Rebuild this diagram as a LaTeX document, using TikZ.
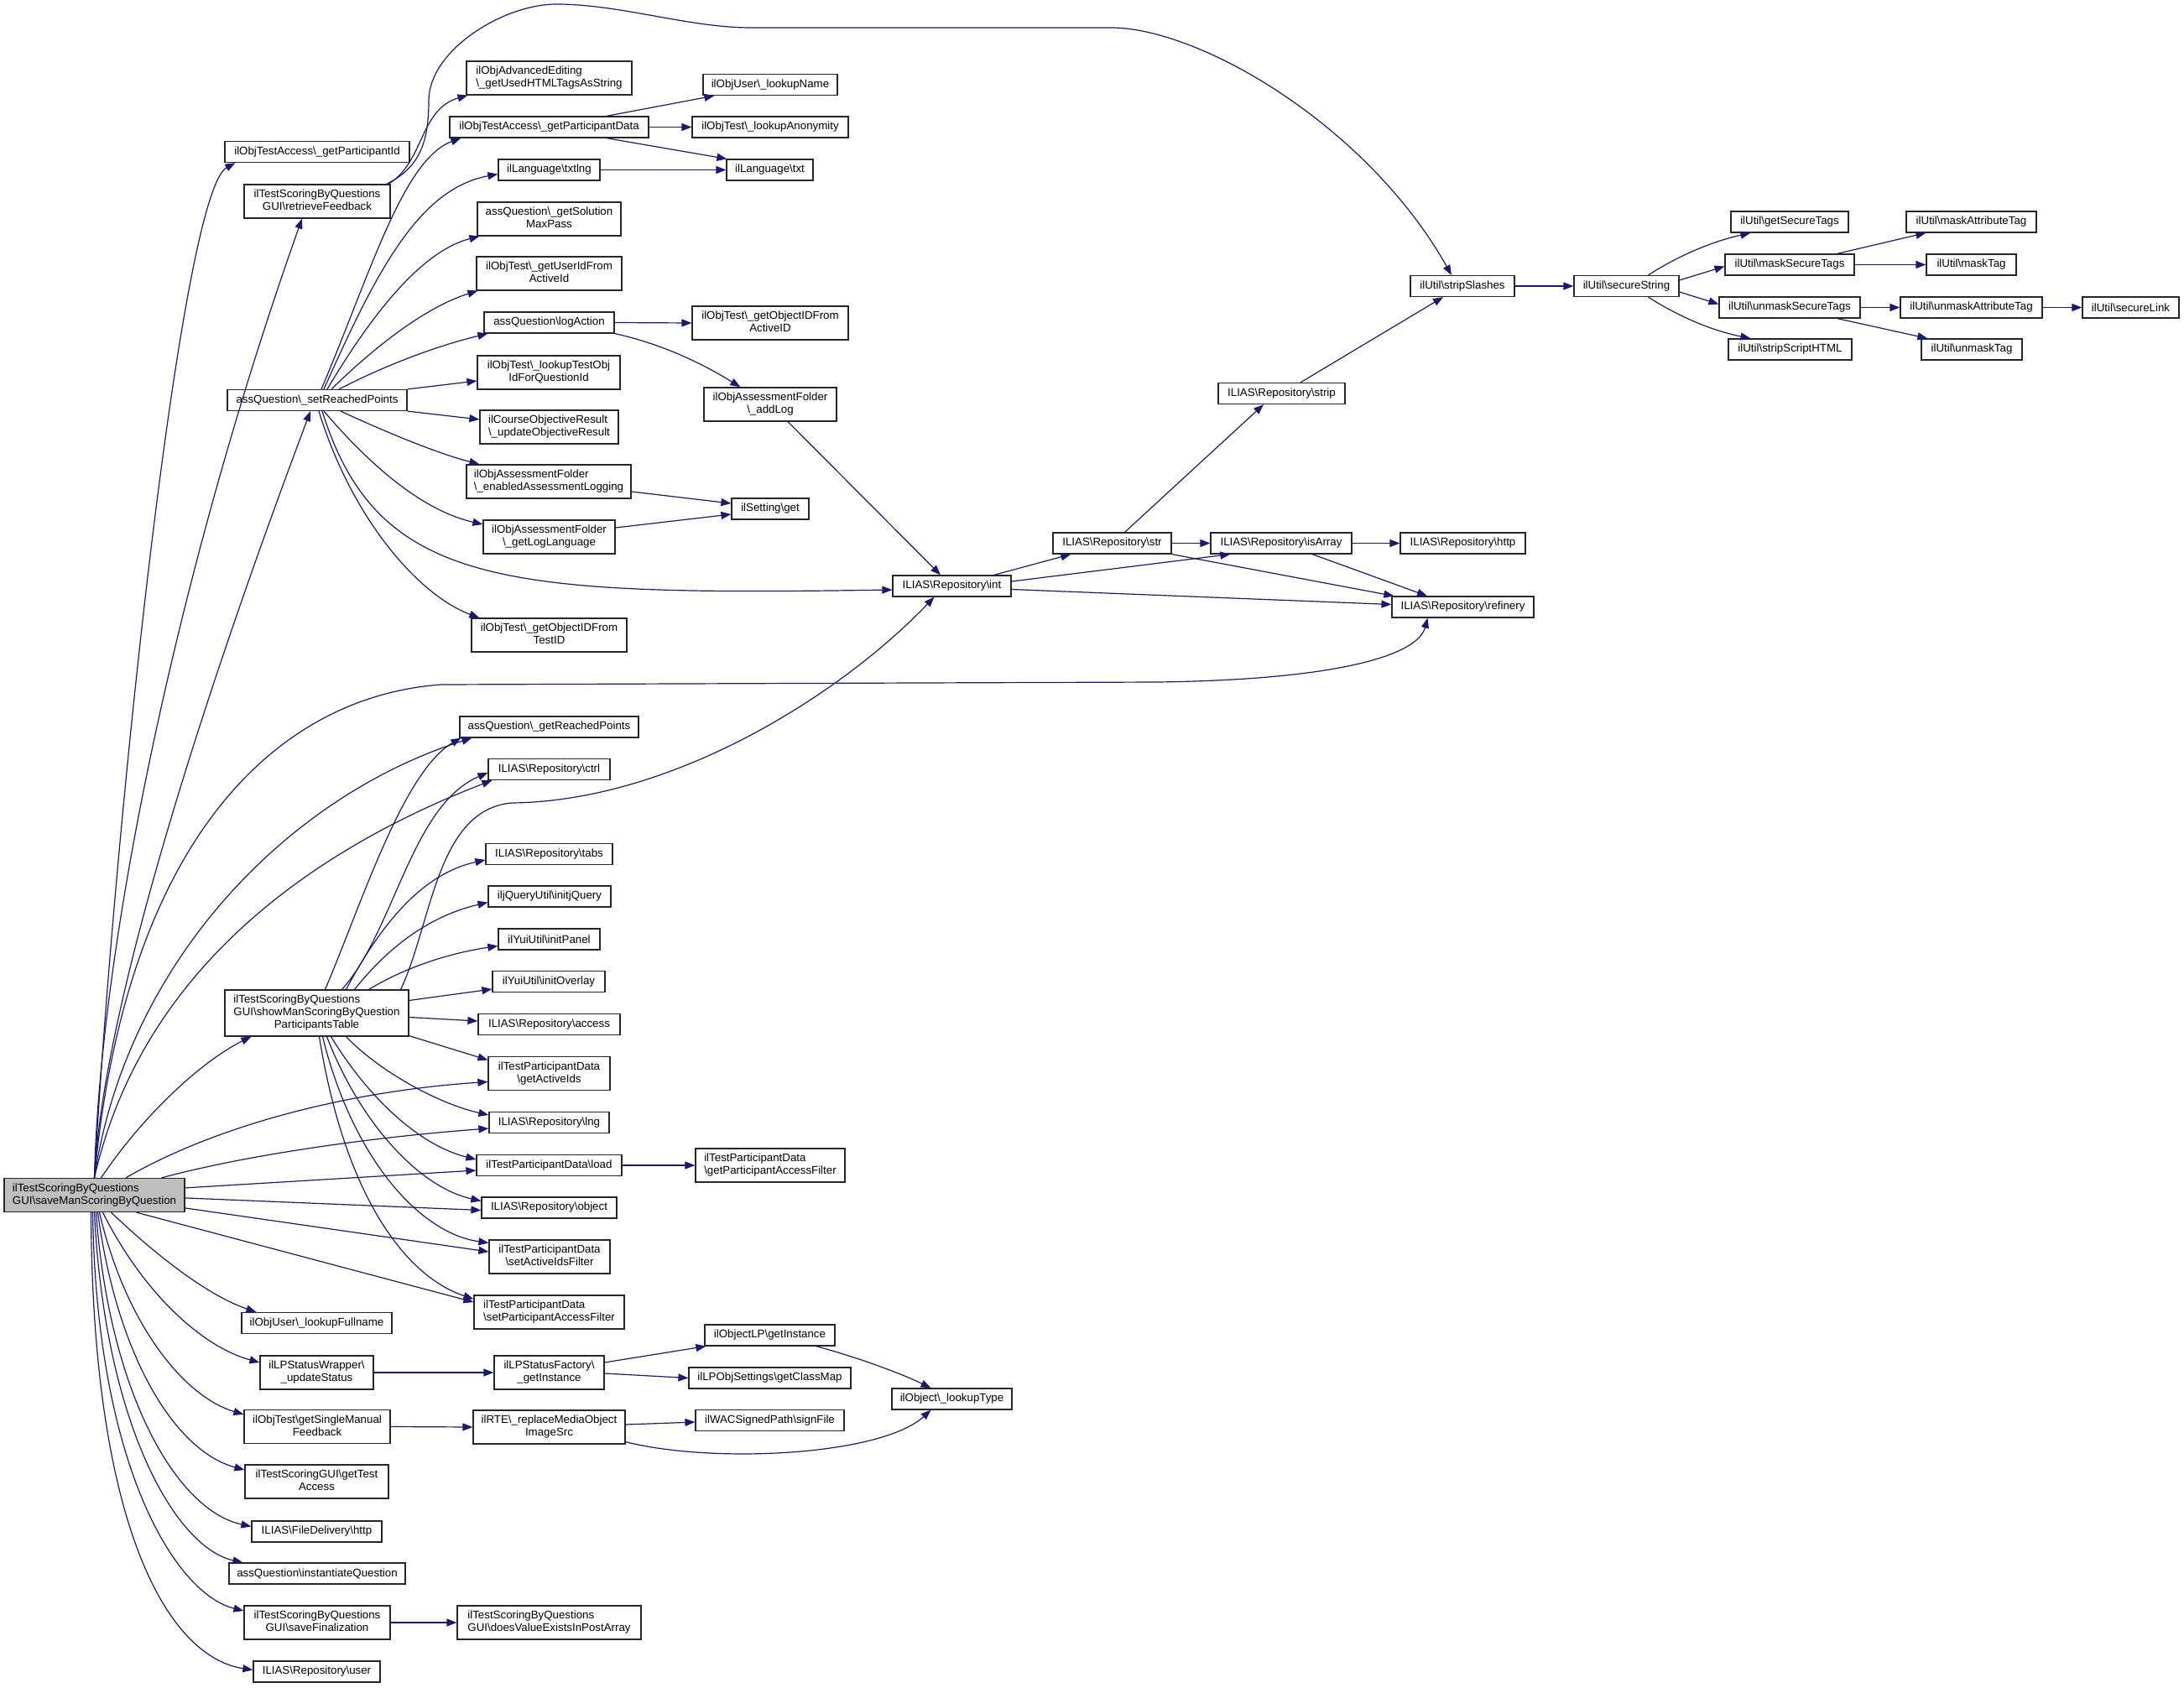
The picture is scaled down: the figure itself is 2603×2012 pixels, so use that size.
\documentclass[tikz,border=0pt]{standalone}
\usepackage{fontspec}
\setmainfont{Liberation Sans}
\usetikzlibrary{arrows.meta,calc}
\definecolor{edgeblue}{HTML}{191970}
\definecolor{maingray}{HTML}{BFBFBF}
\newcommand{\dxbs}{\textbackslash}
\newcommand{\twoln}[2]{\begin{tabular}{@{}l@{}}#1\\\multicolumn{1}{@{}c@{}}{#2}\end{tabular}}
\newcommand{\threeln}[3]{\begin{tabular}{@{}l@{}}#1\\#2\\\multicolumn{1}{@{}c@{}}{#3}\end{tabular}}
\tikzset{
  dxbox/.style={draw=black!85, line width=1.2pt, fill=white, inner xsep=0pt, inner ysep=5pt,
    minimum height=25pt, font=\fontsize{13.3}{15}\selectfont},
  dxedge/.style={draw=edgeblue, line width=1.2pt, -{Triangle[length=12pt,width=9pt]}}
}
\begin{document}
\begin{tikzpicture}[x=1pt,y=-1pt]
\useasboundingbox (0,0) rectangle (2603,2012);
\fill[white] (0,0) rectangle (2603,2012);
% ---------- column A
\node[dxbox,minimum width=215pt,fill=maingray] (m) at (112.5,1424.5) {\twoln{ilTestScoringByQuestions}{GUI\dxbs saveManScoringByQuestion}};
\node[dxbox,minimum width=220pt] (gpi) at (378,181) {ilObjTestAccess\dxbs\_getParticipantId};
\node[dxbox,minimum width=174pt] (rf) at (378,240) {\twoln{ilTestScoringByQuestions}{GUI\dxbs retrieveFeedback}};
\node[dxbox,minimum width=214pt] (srp) at (378,477) {assQuestion\dxbs\_setReachedPoints};
\node[dxbox,minimum width=219pt] (smt) at (377.5,1207.5) {\threeln{ilTestScoringByQuestions}{GUI\dxbs showManScoringByQuestion}{ParticipantsTable}};
\node[dxbox,minimum width=179pt] (lfn) at (377.5,1577) {ilObjUser\dxbs\_lookupFullname};
\node[dxbox,minimum width=135pt] (lpw) at (377.5,1636) {\twoln{ilLPStatusWrapper\dxbs}{\_updateStatus}};
\node[dxbox,minimum width=174pt] (gsmf) at (378,1700.5) {\twoln{ilObjTest\dxbs getSingleManual}{Feedback}};
\node[dxbox,minimum width=171pt] (gta) at (377.5,1766) {\twoln{ilTestScoringGUI\dxbs getTest}{Access}};
\node[dxbox,minimum width=155pt] (fdh) at (377.5,1825.5) {ILIAS\dxbs FileDelivery\dxbs http};
\node[dxbox,minimum width=210pt] (iq) at (378,1875.5) {assQuestion\dxbs instantiateQuestion};
\node[dxbox,minimum width=174pt] (sf) at (378,1934) {\twoln{ilTestScoringByQuestions}{GUI\dxbs saveFinalization}};
\node[dxbox,minimum width=151pt] (ru) at (377.5,1992.5) {ILIAS\dxbs Repository\dxbs user};
% ---------- column B
\node[dxbox,minimum width=197pt] (ae) at (654.5,93) {\twoln{ilObjAdvancedEditing}{\dxbs\_getUsedHTMLTagsAsString}};
\node[dxbox,minimum width=237pt] (gpd) at (654.5,151.5) {ilObjTestAccess\dxbs\_getParticipantData};
\node[dxbox,minimum width=121pt] (tlng) at (654.5,202.5) {ilLanguage\dxbs txtlng};
\node[dxbox,minimum width=171pt] (gsmp) at (654.5,261) {\twoln{assQuestion\dxbs\_getSolution}{MaxPass}};
\node[dxbox,minimum width=173pt] (guid) at (654.5,326) {\twoln{ilObjTest\dxbs\_getUserIdFrom}{ActiveId}};
\node[dxbox,minimum width=155pt] (la) at (654.5,384.5) {assQuestion\dxbs logAction};
\node[dxbox,minimum width=170pt] (ltoi) at (654,444) {\twoln{ilObjTest\dxbs\_lookupTestObj}{IdForQuestionId}};
\node[dxbox,minimum width=165pt] (cor) at (654.5,509) {\twoln{ilCourseObjectiveResult}{\dxbs\_updateObjectiveResult}};
\node[dxbox,minimum width=196pt] (eal) at (654,574) {\twoln{ilObjAssessmentFolder}{\dxbs\_enabledAssessmentLogging}};
\node[dxbox,minimum width=157pt] (gll) at (654.5,640) {\twoln{ilObjAssessmentFolder}{\dxbs\_getLogLanguage}};
\node[dxbox,minimum width=185pt] (goitest) at (654.5,757) {\twoln{ilObjTest\dxbs\_getObjectIDFrom}{TestID}};
\node[dxbox,minimum width=213pt] (grp) at (654.5,866.5) {assQuestion\dxbs\_getReachedPoints};
\node[dxbox,minimum width=145pt] (ctrl) at (654.5,917) {ILIAS\dxbs Repository\dxbs ctrl};
\node[dxbox,minimum width=151pt] (tabs) at (654.5,1018) {ILIAS\dxbs Repository\dxbs tabs};
\node[dxbox,minimum width=146pt] (ijq) at (655,1068.5) {iljQueryUtil\dxbs initjQuery};
\node[dxbox,minimum width=121pt] (ipn) at (654.5,1119.5) {ilYuiUtil\dxbs initPanel};
\node[dxbox,minimum width=134pt] (iov) at (654,1170) {ilYuiUtil\dxbs initOverlay};
\node[dxbox,minimum width=169pt] (acc) at (654.5,1221) {ILIAS\dxbs Repository\dxbs access};
\node[dxbox,minimum width=145pt] (gai) at (654.5,1279.5) {\twoln{ilTestParticipantData}{\dxbs getActiveIds}};
\node[dxbox,minimum width=143pt] (lng) at (654.5,1338) {ILIAS\dxbs Repository\dxbs lng};
\node[dxbox,minimum width=173pt] (load) at (654.5,1389) {ilTestParticipantData\dxbs load};
\node[dxbox,minimum width=161pt] (obj) at (654.5,1439.5) {ILIAS\dxbs Repository\dxbs object};
\node[dxbox,minimum width=144pt] (saif) at (655,1498) {\twoln{ilTestParticipantData}{\dxbs setActiveIdsFilter}};
\node[dxbox,minimum width=179pt] (spaf) at (654.5,1564) {\twoln{ilTestParticipantData}{\dxbs setParticipantAccessFilter}};
\node[dxbox,minimum width=131pt] (lpf) at (654.5,1636) {\twoln{ilLPStatusFactory\dxbs}{\_getInstance}};
\node[dxbox,minimum width=181pt] (rte) at (654.5,1701) {\twoln{ilRTE\dxbs\_replaceMediaObject}{ImageSrc}};
\node[dxbox,minimum width=219pt] (dve) at (654.5,1934) {\twoln{ilTestScoringByQuestions}{GUI\dxbs doesValueExistsInPostArray}};
% ---------- column C
\node[dxbox,minimum width=160pt] (lun) at (918,101) {ilObjUser\dxbs\_lookupName};
\node[dxbox,minimum width=186pt] (lan) at (918,151.5) {ilObjTest\dxbs\_lookupAnonymity};
\node[dxbox,minimum width=103pt] (ltxt) at (917.5,202.5) {ilLanguage\dxbs txt};
\node[dxbox,minimum width=186pt] (goiactive) at (918,385) {\twoln{ilObjTest\dxbs\_getObjectIDFrom}{ActiveID}};
\node[dxbox,minimum width=158pt] (addlog) at (918,482) {\twoln{ilObjAssessmentFolder}{\dxbs\_addLog}};
\node[dxbox,minimum width=92pt] (sget) at (918,606.5) {ilSetting\dxbs get};
\node[dxbox,minimum width=178pt] (gpaf) at (918,1389) {\twoln{ilTestParticipantData}{\dxbs getParticipantAccessFilter}};
\node[dxbox,minimum width=155pt] (olp) at (917.5,1591.5) {ilObjectLP\dxbs getInstance};
\node[dxbox,minimum width=193pt] (gcm) at (917.5,1642.5) {ilLPObjSettings\dxbs getClassMap};
\node[dxbox,minimum width=177pt] (sfile) at (917.5,1693) {ilWACSignedPath\dxbs signFile};
% ---------- further columns
\node[dxbox,minimum width=141pt] (int) at (1134.5,698.5) {ILIAS\dxbs Repository\dxbs int};
\node[dxbox,minimum width=143pt] (ltype) at (1134.5,1667.5) {ilObject\dxbs\_lookupType};
\node[dxbox,minimum width=141pt] (str) at (1325.5,647.5) {ILIAS\dxbs Repository\dxbs str};
\node[dxbox,minimum width=151pt] (strip) at (1527.5,469) {ILIAS\dxbs Repository\dxbs strip};
\node[dxbox,minimum width=168pt] (isarr) at (1527,647.5) {ILIAS\dxbs Repository\dxbs isArray};
\node[dxbox,minimum width=124pt] (ss) at (1743,341) {ilUtil\dxbs stripSlashes};
\node[dxbox,minimum width=149pt] (http) at (1743.5,647.5) {ILIAS\dxbs Repository\dxbs http};
\node[dxbox,minimum width=169pt] (ref) at (1743.5,723.5) {ILIAS\dxbs Repository\dxbs refinery};
\node[dxbox,minimum width=125pt] (sstr) at (1938.5,341) {ilUtil\dxbs secureString};
\node[dxbox,minimum width=140pt] (gst) at (2133,264.5) {ilUtil\dxbs getSecureTags};
\node[dxbox,minimum width=154pt] (mst) at (2133,315.5) {ilUtil\dxbs maskSecureTags};
\node[dxbox,minimum width=168pt] (ust) at (2133,366.5) {ilUtil\dxbs unmaskSecureTags};
\node[dxbox,minimum width=147pt] (ssh) at (2133.5,416.5) {ilUtil\dxbs stripScriptHTML};
\node[dxbox,minimum width=155pt] (mat) at (2349.5,264.5) {ilUtil\dxbs maskAttributeTag};
\node[dxbox,minimum width=107pt] (mtag) at (2349.5,315.5) {ilUtil\dxbs maskTag};
\node[dxbox,minimum width=169pt] (uat) at (2349.5,366.5) {ilUtil\dxbs unmaskAttributeTag};
\node[dxbox,minimum width=120pt] (utag) at (2350,416.5) {ilUtil\dxbs unmaskTag};
\node[dxbox,minimum width=115pt] (slink) at (2539.5,366.5) {ilUtil\dxbs secureLink};
% ---------- edges from main
\draw[dxedge] (m.north) .. controls (135,1000) and (215,230) .. ($(gpi.south west)+(13,0)$);
\draw[dxedge] (m.north) .. controls (120,1100) and (225,640) .. ($(rf.south)+(-18,0)$);
\draw[dxedge] (m.north) .. controls (125,1150) and (310,650) .. ($(srp.south)+(-8,0)$);
\draw[dxedge] (m.north) .. controls (150,1000) and (330,830) .. (526,816) -- (1380,813) .. controls (1600,810) and (1690,780) .. ($(ref.south)+(-42,0)$);
\draw[dxedge] (m.north) .. controls (150,1150) and (340,950) .. ($(grp.south west)+(15,0)$);
\draw[dxedge] (m.north) .. controls (170,1150) and (380,1010) .. ($(ctrl.south west)+(5,0)$);
\draw[dxedge] ($(m.north)+(8,0)$) .. controls (170,1330) and (240,1265) .. ($(smt.south west)+(32,0)$);
\draw[dxedge] ($(m.north)+(37.5,0)$) .. controls (260,1340) and (420,1300) .. ($(gai.west)+(0,10)$);
\draw[dxedge] ($(m.north)+(80,0)$) .. controls (300,1375) and (450,1355) .. ($(lng.west)+(0,7)$);
\draw[dxedge] ($(m.north east)+(0,12)$) -- ($(load.west)+(0,6)$);
\draw[dxedge] ($(m.north east)+(0,24)$) -- ($(obj.west)+(0,3)$);
\draw[dxedge] ($(m.north east)+(0,36)$) -- ($(saif.west)+(0,-6)$);
\draw[dxedge] ($(m.south)+(50,0)$) -- ($(spaf.west)+(0,-12)$);
\draw[dxedge] ($(m.south)+(20,0)$) .. controls (190,1500) and (250,1545) .. ($(lfn.north west)+(18,0)$);
\draw[dxedge] ($(m.south)+(10,0)$) .. controls (170,1540) and (240,1605) .. ($(lpw.west)+(0,-12)$);
\draw[dxedge] ($(m.south)+(6,0)$) .. controls (150,1580) and (220,1665) .. ($(gsmf.north west)+(0,6)$);
\draw[dxedge] ($(m.south)+(4,0)$) .. controls (140,1620) and (210,1730) .. ($(gta.west)+(0,-14)$);
\draw[dxedge] ($(m.south)+(2,0)$) .. controls (130,1660) and (210,1800) .. ($(fdh.west)+(0,-6)$);
\draw[dxedge] (m.south) .. controls (125,1700) and (210,1845) .. ($(iq.north west)+(17,0)$);
\draw[dxedge] ($(m.south)+(-2,0)$) .. controls (115,1750) and (210,1900) .. ($(sf.west)+(0,-14)$);
\draw[dxedge] ($(m.south)+(-4,0)$) .. controls (110,1820) and (200,1975) .. ($(ru.west)+(0,-2)$);
% ---------- edges from showMan table
\draw[dxedge] ($(smt.north)+(10,0)$) .. controls (430,1080) and (480,920) .. ($(grp.south west)+(2,0)$);
\draw[dxedge] ($(smt.north)+(30,0)$) .. controls (470,1110) and (490,960) .. ($(ctrl.west)+(0,4)$);
\draw[dxedge] ($(smt.north east)+(-10,0)$) .. controls (515,1100) and (520,965) .. (610,957) .. controls (800,955) and (1000,830) .. ($(int.south)+(-21,0)$);
\draw[dxedge] ($(smt.north)+(35,0)$) .. controls (460,1090) and (510,1040) .. ($(tabs.west)+(0,7)$);
\draw[dxedge] ($(smt.north)+(45,0)$) .. controls (470,1120) and (520,1090) .. ($(ijq.west)+(0,7)$);
\draw[dxedge] ($(smt.north)+(62,0)$) .. controls (480,1155) and (530,1137) .. ($(ipn.west)+(0,8)$);
\draw[dxedge] ($(smt.east)+(0,-15)$) -- ($(iov.west)+(0,9)$);
\draw[dxedge] ($(smt.east)+(0,5)$) -- ($(acc.west)+(0,-4)$);
\draw[dxedge] ($(smt.south east)+(0,-1)$) -- ($(gai.west)+(0,-16)$);
\draw[dxedge] ($(smt.south)+(35,0)$) .. controls (450,1275) and (520,1315) .. ($(lng.west)+(0,-9)$);
\draw[dxedge] ($(smt.south)+(17,0)$) .. controls (440,1310) and (500,1365) .. ($(load.west)+(0,-7)$);
\draw[dxedge] ($(smt.south)+(12,0)$) .. controls (430,1340) and (500,1415) .. ($(obj.west)+(0,-8)$);
\draw[dxedge] ($(smt.south)+(7,0)$) .. controls (420,1380) and (500,1470) .. ($(saif.north west)+(0,4)$);
\draw[dxedge] ($(smt.south)+(3,0)$) .. controls (410,1420) and (480,1520) .. ($(spaf.north west)+(0,5)$);
% ---------- edges from setReachedPoints
\draw[dxedge] ($(srp.north)+(5,0)$) .. controls (440,330) and (480,190) .. ($(gpd.south west)+(14,0)$);
\draw[dxedge] ($(srp.north)+(8,0)$) .. controls (450,320) and (500,225) .. ($(tlng.west)+(0,5)$);
\draw[dxedge] ($(srp.north)+(12,0)$) .. controls (440,380) and (500,300) .. ($(gsmp.south west)+(3,0)$);
\draw[dxedge] ($(srp.north)+(17,0)$) .. controls (450,410) and (510,365) .. ($(guid.south west)+(2,0)$);
\draw[dxedge] ($(srp.north)+(26,0)$) .. controls (470,430) and (530,410) .. ($(la.south west)+(5,0)$);
\draw[dxedge] (srp.north east) -- ($(ltoi.west)+(0,10)$);
\draw[dxedge] (srp.south east) -- ($(cor.west)+(0,-9)$);
\draw[dxedge] ($(srp.south)+(28,0)$) .. controls (460,515) and (520,540) .. ($(eal.north west)+(16,0)$);
\draw[dxedge] ($(srp.south)+(8,0)$) .. controls (450,565) and (510,610) .. ($(gll.west)+(0,-15)$);
\draw[dxedge] ($(srp.south)+(6,0)$) .. controls (450,700) and (600,710) .. ($(int.west)+(0,4.5)$);
\draw[dxedge] ($(srp.south)+(2,0)$) .. controls (420,620) and (500,710) .. ($(goitest.north west)+(10,0)$);
% ---------- edges from retrieveFeedback
\draw[dxedge] ($(rf.north east)+(-3,0)$) .. controls (505,195) and (500,130) .. ($(ae.south west)+(2,0)$);
\draw[dxedge] ($(rf.north east)+(-5,0)$) .. controls (500,200) and (511,170) .. (511,120) .. controls (511,60) and (600,5) .. (663,5) .. controls (740,5) and (820,33) .. (895,33) -- (1324,33) .. controls (1430,33) and (1630,150) .. ($(ss.north)+(-13,0)$);
% ---------- second level
\draw[dxedge] ($(gpd.north east)+(-51,0)$) -- ($(lun.south west)+(14,0)$);
\draw[dxedge] (gpd.east) -- (lan.west);
\draw[dxedge] ($(gpd.south east)+(-51,0)$) -- ($(ltxt.north west)+(1,0)$);
\draw[dxedge] (tlng.east) -- (ltxt.west);
\draw[dxedge] (la.east) -- (goiactive.west);
\draw[dxedge] (la.south east) .. controls (790,410) and (840,435) .. ($(addlog.north west)+(44,0)$);
\draw[dxedge] ($(eal.east)+(0,12)$) -- ($(sget.west)+(0,-6.5)$);
\draw[dxedge] ($(gll.east)+(0,-11)$) -- ($(sget.west)+(0,6.5)$);
\draw[dxedge] ($(addlog.south)+(21,0)$) -- ($(int.north)+(-13.5,0)$);
\draw[dxedge] ($(int.north east)+(-21,0)$) -- ($(str.south west)+(22,0)$);
\draw[dxedge] ($(int.east)+(0,-5.5)$) -- ($(isarr.south west)+(24,0)$);
\draw[dxedge] ($(int.east)+(0,4)$) -- ($(ref.west)+(0,-3)$);
\draw[dxedge] ($(str.north)+(15,0)$) -- ($(strip.south)+(-21.5,0)$);
\draw[dxedge] (str.east) -- (isarr.west);
\draw[dxedge] (str.south east) -- ($(ref.north west)+(3,0)$);
\draw[dxedge] ($(strip.north)+(22.5,0)$) -- ($(ss.south)+(-23,0)$);
\draw[dxedge] (isarr.east) -- (http.west);
\draw[dxedge] ($(isarr.south)+(37,0)$) -- ($(ref.north)+(-42.5,0)$);
\draw[dxedge] (ss.east) -- (sstr.west);
\draw[dxedge] ($(sstr.north)+(26,0)$) .. controls (2000,305) and (2040,288) .. ($(gst.south west)+(24,0)$);
\draw[dxedge] ($(sstr.east)+(0,-7)$) -- ($(mst.west)+(0,2)$);
\draw[dxedge] ($(sstr.east)+(0,7)$) -- ($(ust.west)+(0,-4)$);
\draw[dxedge] ($(sstr.south)+(26,0)$) .. controls (2000,377) and (2040,394) .. ($(ssh.north west)+(27,0)$);
\draw[dxedge] ($(mst.north east)+(-21,0)$) -- ($(mat.south west)+(24,0)$);
\draw[dxedge] (mst.east) -- (mtag.west);
\draw[dxedge] (ust.east) -- (uat.west);
\draw[dxedge] ($(ust.south east)+(-28,0)$) -- ($(utag.north west)+(8,0)$);
\draw[dxedge] (uat.east) -- (slink.west);
\draw[dxedge] (load.east) -- (gpaf.west);
\draw[dxedge] (lpw.east) -- (lpf.west);
\draw[dxedge] ($(lpf.east)+(0,-12)$) -- ($(olp.south west)+(2,0)$);
\draw[dxedge] ($(lpf.east)+(0,1)$) -- (gcm.west);
\draw[dxedge] (gsmf.east) -- (rte.west);
\draw[dxedge] ($(rte.east)+(0,-3)$) -- ($(sfile.west)+(0,2)$);
\draw[dxedge] ($(rte.south east)+(0,-3)$) .. controls (850,1745) and (1050,1735) .. ($(ltype.south)+(-25,0)$);
\draw[dxedge] ($(olp.south east)+(-23,0)$) .. controls (1030,1620) and (1080,1640) .. ($(ltype.north)+(-25,0)$);
\draw[dxedge] (sf.east) -- (dve.west);
\end{tikzpicture}
\end{document}
